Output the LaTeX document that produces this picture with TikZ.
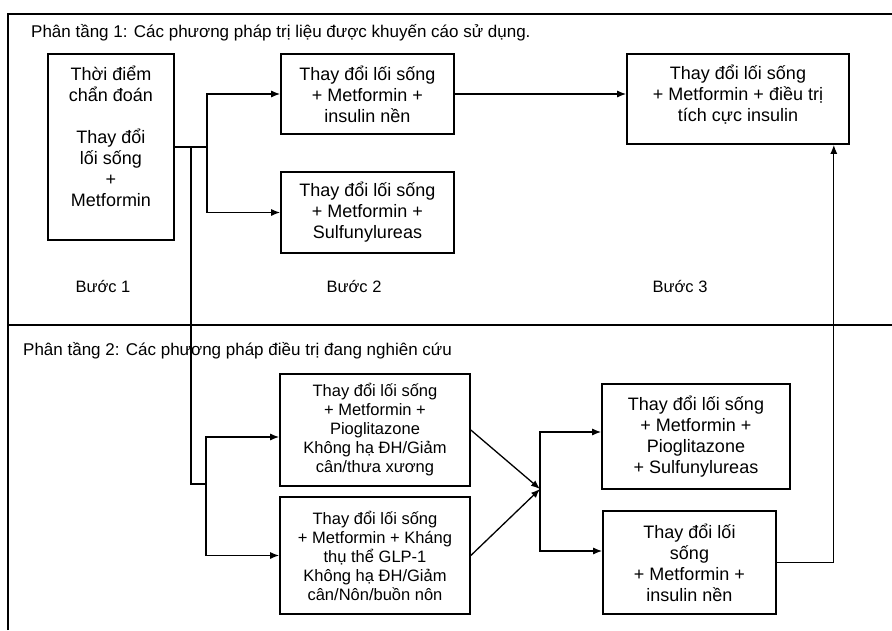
\documentclass[tikz,border=0pt]{standalone}
\usepackage{fontspec}
\setmainfont{Liberation Sans}
\usetikzlibrary{arrows.meta,calc}
\begin{document}
\begin{tikzpicture}[x=1pt,y=-1pt,
 box/.style={draw, line width=1.6pt, align=center, inner sep=0pt, font=\fontsize{18}{21}\selectfont},
 cbox/.style={box, font=\fontsize{16.5}{19}\selectfont},
 lbl/.style={font=\fontsize{16.5}{19}\selectfont, inner sep=0pt},
 ttl/.style={font=\fontsize{17}{19}\selectfont, inner sep=0pt},
 conn/.style={line width=1.3pt},
 arr/.style={conn, -{Latex[length=9pt,width=7pt]}},
 frame/.style={line width=1.4pt}]
\useasboundingbox (0,0) rectangle (892,630);
\draw[frame] (8,630) -- (8,14) -- (892,14);
\draw[frame] (8,325) -- (892,325);

\node[ttl, anchor=base west] (t1) at (31,37) {Phân tầng 1: Các phương pháp trị liệu được khuyến cáo sử dụng.};
\node[ttl, anchor=base west] (t2) at (23,355) {Phân tầng 2: Các phương pháp điều trị đang nghiên cứu};

\node[box, minimum width=126pt, minimum height=186pt] (A) at (111,147) {Thời điểm\\chẩn đoán\\[21pt]Thay đổi\\lối sống\\+\\Metformin\\\mbox{}};
\node[box, minimum width=173pt, minimum height=80pt] (B1) at (367.5,94) {Thay đổi lối sống\\+ Metformin +\\insulin nền};
\node[box, minimum width=173pt, minimum height=81pt] (B2) at (367.5,212.5) {Thay đổi lối sống\\+ Metformin +\\Sulfunylureas};
\node[box, minimum width=222pt, minimum height=90pt] (D) at (738,99) {Thay đổi lối sống\\+ Metformin + điều trị\\tích cực insulin\\[-9pt]\mbox{}};

\node[lbl, anchor=base] (s1) at (103,292) {Bước 1};
\node[lbl, anchor=base] (s2) at (354,292) {Bước 2};
\node[lbl, anchor=base] (s3) at (680,292) {Bước 3};

\node[cbox, minimum width=190pt, minimum height=112pt] (C1) at (375,430) {Thay đổi lối sống\\+ Metformin +\\Pioglitazone\\Không hạ ĐH/Giảm\\cân/thưa xương};
\node[cbox, minimum width=190pt, minimum height=117pt] (C2) at (375,555.5) {Thay đổi lối sống\\+ Metformin + Kháng\\thụ thể GLP-1\\Không hạ ĐH/Giảm\\cân/Nôn/buồn nôn};
\node[box, minimum width=188pt, minimum height=105pt] (E1) at (696,436.5) {Thay đổi lối sống\\+ Metformin +\\Pioglitazone\\+ Sulfunylureas};
\node[box, minimum width=173pt, minimum height=103pt] (E2) at (689.5,562.5) {Thay đổi lối\\sống\\+ Metformin +\\insulin nền};

\coordinate (j1) at (207,147);
\coordinate (j2) at (191,147);
\coordinate (j3) at (206,484);
\coordinate (m) at (540,489);

\draw[conn] (A.east) -- (j1);
\draw[arr] (j1) |- (B1.west);
\draw[arr] (j1) |- (B2.west);
\draw[conn] (j2) |- (j3);
\draw[arr] (j3) |- ([yshift=-7pt]C1.west);
\draw[arr] (j3) |- (C2.west);
\draw[arr] (C1.east) -- (m);
\draw[arr] (C2.east) -- (m);
\draw[arr] (m) |- ([yshift=4.5pt]E1.west);
\draw[arr] (m) |- ([yshift=11.5pt]E2.west);
\draw[arr] (B1.east) -- (B1.east -| D.west);
\draw[arr] (E2.east) -| ([xshift=-16pt]D.south east);
\end{tikzpicture}
\end{document}
